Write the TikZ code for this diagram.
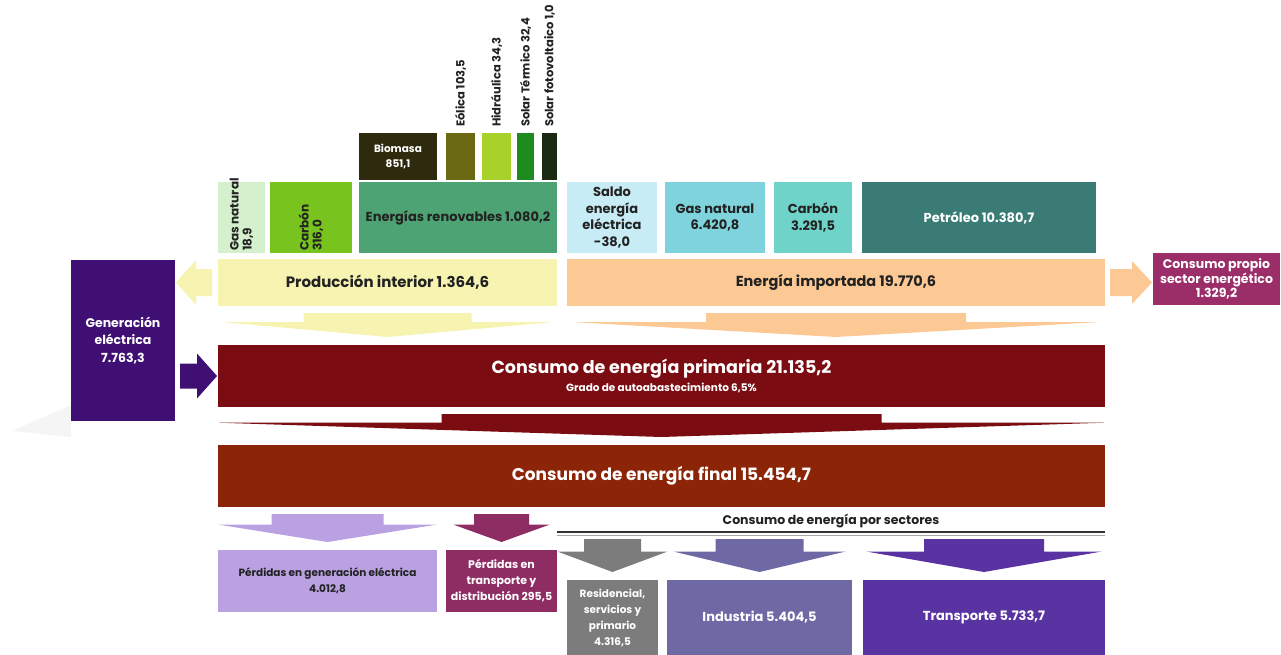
\documentclass[tikz,border=0pt]{standalone}
\usepackage{fontspec}
\setmainfont{Poppins}
\usetikzlibrary{calc}

\definecolor{txtdark}{HTML}{222222}
\definecolor{cBiom}{HTML}{2D2A0E}
\definecolor{cEol}{HTML}{6B6A12}
\definecolor{cHid}{HTML}{A8D12A}
\definecolor{cSolT}{HTML}{1F8A1F}
\definecolor{cSolF}{HTML}{1B2A12}
\definecolor{cGasP}{HTML}{D4F0CC}
\definecolor{cCarP}{HTML}{78C31E}
\definecolor{cRenov}{HTML}{4EA374}
\definecolor{cSaldo}{HTML}{C8ECF6}
\definecolor{cGasI}{HTML}{7FD3DD}
\definecolor{cCarI}{HTML}{6FD3C9}
\definecolor{cPetr}{HTML}{3A7B75}
\definecolor{cProd}{HTML}{F7F3B0}
\definecolor{cImp}{HTML}{FCC995}
\definecolor{cPropio}{HTML}{9B2D68}
\definecolor{cGen}{HTML}{3F0F74}
\definecolor{cPrim}{HTML}{7B0C12}
\definecolor{cFinal}{HTML}{8C2508}
\definecolor{cPerGen}{HTML}{B9A1E2}
\definecolor{cPerTr}{HTML}{8E2D63}
\definecolor{cResid}{HTML}{7C7C7C}
\definecolor{cIndus}{HTML}{6E68A4}
\definecolor{cTransp}{HTML}{5A33A3}
\definecolor{cShadow}{HTML}{F5F5F5}

% block arrow pointing down: colour, centre, source, target, head half width, shaft half width
\newcommand{\flowdown}[6]{%
  \fill[#1] let \p1=(#2), \p2=(#3), \p3=(#4), \n1={\y2-7pt}, \n2={\y3+8pt},
      \n3={\n1-0.38*(\n1-\n2)} in
    (\x1-#6pt,\n1) -- (\x1+#6pt,\n1) -- (\x1+#6pt,\n3) -- (\x1+#5pt,\n3) --
    (\x1,\n2) -- (\x1-#5pt,\n3) -- (\x1-#6pt,\n3) -- cycle;}
% block arrows sideways: colour, from, to, level, head half width, shaft half width
\newcommand{\flowright}[6]{%
  \fill[#1] let \p1=(#2), \p2=(#3), \p3=(#4) in
    (\x1+5pt,\y3+#6pt) -- (\x2-21pt,\y3+#6pt) -- (\x2-21pt,\y3+#5pt) -- (\x2-1pt,\y3) --
    (\x2-21pt,\y3-#5pt) -- (\x2-21pt,\y3-#6pt) -- (\x1+5pt,\y3-#6pt) -- cycle;}
\newcommand{\flowleft}[6]{%
  \fill[#1] let \p1=(#2), \p2=(#3), \p3=(#4) in
    (\x1-6pt,\y3+#6pt) -- (\x2+21pt,\y3+#6pt) -- (\x2+21pt,\y3+#5pt) -- (\x2+1pt,\y3) --
    (\x2+21pt,\y3-#5pt) -- (\x2+21pt,\y3-#6pt) -- (\x1-6pt,\y3-#6pt) -- cycle;}

\begin{document}
\begin{tikzpicture}[x=1pt, y=-1pt,
        box/.style={rectangle, inner sep=1pt, outer sep=0pt, anchor=north west, align=center,
                    font=\bfseries\fontsize{13}{16.5}\selectfont},
        small/.style={font=\bfseries\fontsize{10.5}{16}\selectfont},
        mid/.style={font=\bfseries\fontsize{14.5}{16}\selectfont},
        vlabel/.style={rotate=90, anchor=west, inner sep=0pt, align=left, text=txtdark,
                       font=\bfseries\fontsize{11.5}{12.5}\selectfont}
    ]
    \useasboundingbox (0,0) rectangle (1281,655);
    % faint shadow
    \fill[cShadow] (12,431) -- (71,405) -- (71,437) -- cycle;

    % ---- Renewable sources ----
    \node[box, fill=cBiom, text=white, minimum width=78, minimum height=47,
          font=\bfseries\fontsize{10.5}{15}\selectfont] (biomasa) at (359,133) {Biomasa\\851,1};
    \node[box, fill=cEol, minimum width=29, minimum height=47] (eolica) at (446,133) {};
    \node[box, fill=cHid, minimum width=29, minimum height=47] (hidraulica) at (482,133) {};
    \node[box, fill=cSolT, minimum width=17, minimum height=47] (soltermico) at (517,133) {};
    \node[box, fill=cSolF, minimum width=15, minimum height=47] (solfoto) at (542,133) {};
    \node[vlabel] (eolicalbl) at ($(eolica.north)+(0,-6)$) {Eólica 103,5};
    \node[vlabel] (hidraulicalbl) at ($(hidraulica.north)+(0,-6)$) {Hidráulica 34,3};
    \node[vlabel] (soltermicolbl) at ($(soltermico.north)+(0,-6)$) {Solar Térmico 32,4};
    \node[vlabel] (solfotolbl) at ($(solfoto.north)+(0,-6)$) {Solar fotovoltaico 1,0};

    % ---- Domestic production ----
    \node[box, fill=cGasP, minimum width=47, minimum height=71] (gasprod) at (218,182) {};
    \node[vlabel, font=\bfseries\fontsize{12}{13}\selectfont] (gasprodlbl) at ($(gasprod.south)+(0,-2)$) {Gas natural\\18,9};
    \node[box, fill=cCarP, minimum width=82, minimum height=71] (carbprod) at (270,182) {};
    \node[vlabel, font=\bfseries\fontsize{12}{13}\selectfont] (carbprodlbl) at ($(carbprod.south)+(0,-2)$) {Carbón\\316,0};
    \node[box, fill=cRenov, text=txtdark, minimum width=198, minimum height=71] (renov) at (359,182) {Energías renovables 1.080,2};
    \node[box, mid, fill=cProd, text=txtdark, minimum width=339, minimum height=47,
          font=\bfseries\fontsize{15}{17}\selectfont] (prod) at (218,259) {Producción interior 1.364,6};

    % ---- Imports ----
    \node[box, fill=cSaldo, text=txtdark, minimum width=90, minimum height=71] (saldo) at (567,182) {Saldo\\energía\\eléctrica\\-38,0};
    \node[box, fill=cGasI, text=txtdark, minimum width=100, minimum height=71] (gasimp) at (665,182) {Gas natural\\6.420,8};
    \node[box, fill=cCarI, text=txtdark, minimum width=78, minimum height=71] (carbimp) at (774,182) {Carbón\\3.291,5};
    \node[box, fill=cPetr, text=white, minimum width=234, minimum height=71] (petroleo) at (862,182) {Petróleo 10.380,7};
    \node[box, mid, fill=cImp, text=txtdark, minimum width=538, minimum height=47] (imp) at (567,259) {Energía importada 19.770,6};
    \node[box, fill=cPropio, text=white, minimum width=127, minimum height=52,
          font=\bfseries\fontsize{12.5}{14.5}\selectfont] (propio) at (1153,253) {Consumo propio\\sector energético\\1.329,2};

    % ---- Primary and final consumption ----
    \node[box, fill=cGen, text=white, minimum width=104, minimum height=161,
          font=\bfseries\fontsize{12.5}{17.5}\selectfont] (gen) at (71,260) {Generación\\eléctrica\\7.763,3};
    \node[box, fill=cPrim, text=white, minimum width=887, minimum height=62] (prim) at (218,345)
        {{\fontsize{17.5}{20}\selectfont Consumo de energía primaria 21.135,2}\\[1pt]{\fontsize{10.5}{11}\selectfont Grado de autoabastecimiento 6,5\%}};
    \node[box, fill=cFinal, text=white, minimum width=887, minimum height=62,
          font=\bfseries\fontsize{17}{19}\selectfont] (final) at (218,445) {Consumo de energía final 15.454,7};

    % ---- Losses ----
    \node[box, fill=cPerGen, text=txtdark, minimum width=219, minimum height=62,
          font=\bfseries\fontsize{10.5}{16}\selectfont] (pergen) at (218,550) {Pérdidas en generación eléctrica\\4.012,8};
    \node[box, fill=cPerTr, text=white, minimum width=111, minimum height=62,
          font=\bfseries\fontsize{11}{16}\selectfont] (pertr) at (446,550) {Pérdidas en\\transporte y\\distribución 295,5};

    % ---- Sectors ----
    \node[font=\bfseries\fontsize{12.5}{14}\selectfont, text=txtdark] (sectitle) at (831,521) {Consumo de energía por sectores};
    \node[inner sep=0pt, outer sep=0pt, minimum width=548, minimum height=0pt] (secline) at (831,532) {};
    \draw[black!80, line width=2.5pt] (secline.west) -- (secline.east);
    \draw[black!35, line width=1pt] ($(secline.west)+(0,3)$) -- ($(secline.east)+(0,3)$);
    \node[box, small, fill=cResid, text=white, minimum width=91, minimum height=75] (resid) at (567,580) {Residencial,\\servicios y\\primario\\4.316,5};
    \node[box, fill=cIndus, text=white, minimum width=185, minimum height=75] (indus) at (667,580) {Industria 5.404,5};
    \node[box, fill=cTransp, text=white, minimum width=242, minimum height=75] (transp) at (863,580) {Transporte 5.733,7};

    % ---- Flows ----
    \flowleft{cProd}{prod.west}{gen.east}{prod.west}{22.5}{13.5}
    \flowright{cImp}{imp.east}{propio.west}{imp.east}{21.5}{13.5}
    \flowright{cGen}{gen.east}{prim.west}{prim.west}{22.5}{12.5}
    \flowdown{cProd}{prod.south}{prod.south}{prim.north}{165}{84}
    \flowdown{cImp}{imp.south}{imp.south}{prim.north}{262}{130}
    \flowdown{cPrim}{prim.south}{prim.south}{final.north}{442}{220}
    \flowdown{cPerGen}{pergen.north}{final.south}{pergen.north}{109}{56}
    \flowdown{cPerTr}{pertr.north}{final.south}{pertr.north}{48}{27.5}
    \flowdown{cResid}{resid.north}{secline.south}{resid.north}{55}{28.5}
    \flowdown{cIndus}{indus.north}{secline.south}{indus.north}{86}{44}
    \flowdown{cTransp}{transp.north}{secline.south}{transp.north}{117.5}{60}
\end{tikzpicture}
\end{document}
